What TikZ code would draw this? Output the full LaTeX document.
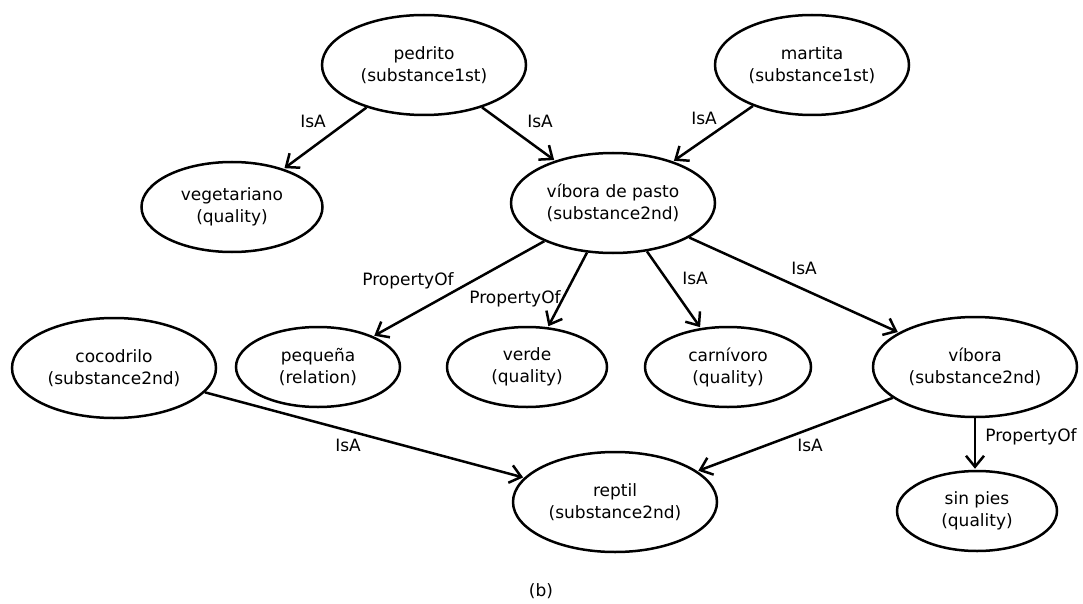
\documentclass[tikz,border=0pt]{standalone}
\usepackage{fontspec}
\setmainfont{DejaVu Sans}
\usetikzlibrary{shapes.geometric,arrows.meta}
\begin{document}
\begin{tikzpicture}[x=1pt,y=-1pt,
  concept/.style={draw=black, line width=2.5pt, ellipse, inner sep=0pt,
    align=center, font=\fontsize{17}{22}\selectfont},
  big/.style={concept, minimum width=204pt, minimum height=100pt},
  mid/.style={concept, minimum width=194pt, minimum height=100pt},
  small/.style={concept, minimum width=160pt, minimum height=80pt},
  rel/.style={-{Straight Barb[length=11pt,width=18pt,line width=2.5pt]}, line width=2.5pt, shorten >=1pt},
  lbl/.style={font=\fontsize{17}{20}\selectfont, inner sep=0pt}]
\useasboundingbox (0,0) rectangle (1083,604);

% concepts
\node[big]   (ped) at (424,65)  {pedrito\\(substance1st)};
\node[mid]   (mar) at (812,65)  {martita\\(substance1st)};
\node[big]   (vdp) at (613,203) {víbora de pasto\\(substance2nd)};
\node[small, minimum width=181pt, minimum height=90pt] (veg) at (232,207) {vegetariano\\(quality)};
\node[big]   (coc) at (114,368) {cocodrilo\\(substance2nd)};
\node[small, minimum width=164pt] (peq) at (318,367) {pequeña\\(relation)};
\node[small] (ver) at (527,367) {verde\\(quality)};
\node[small, minimum width=166pt] (car) at (728,367) {carnívoro\\(quality)};
\node[big]   (vib) at (975,367) {víbora\\(substance2nd)};
\node[big]   (rep) at (615,502) {reptil\\(substance2nd)};
\node[small] (sin) at (977,511) {sin pies\\(quality)};

% relations
\draw[rel] (ped) -- (veg);
\draw[rel] (ped) -- (vdp);
\draw[rel] (mar) -- (vdp);
\draw[rel] (vdp) -- (peq);
\draw[rel] (vdp) -- (ver);
\draw[rel] (vdp) -- (car);
\draw[rel] (vdp) -- (vib);
\draw[rel] (coc) -- (rep);
\draw[rel] (vib) -- (rep);
\draw[rel] (vib.south) -- (vib.south |- sin.north);

% relation labels
\node[lbl] (l1)  at (313,121) {IsA};
\node[lbl] (l2)  at (540,121) {IsA};
\node[lbl] (l3)  at (704,118) {IsA};
\node[lbl] (l4)  at (408,281) {PropertyOf};
\node[lbl] (l5)  at (515,299) {PropertyOf};
\node[lbl] (l6)  at (695,278) {IsA};
\node[lbl] (l7)  at (804,268) {IsA};
\node[lbl] (l8)  at (348,445) {IsA};
\node[lbl] (l9)  at (810,445) {IsA};
\node[lbl] (l10) at (1031,437) {PropertyOf};

% caption
\node[lbl] (cap) at (541,591) {(b)};
\end{tikzpicture}
\end{document}
